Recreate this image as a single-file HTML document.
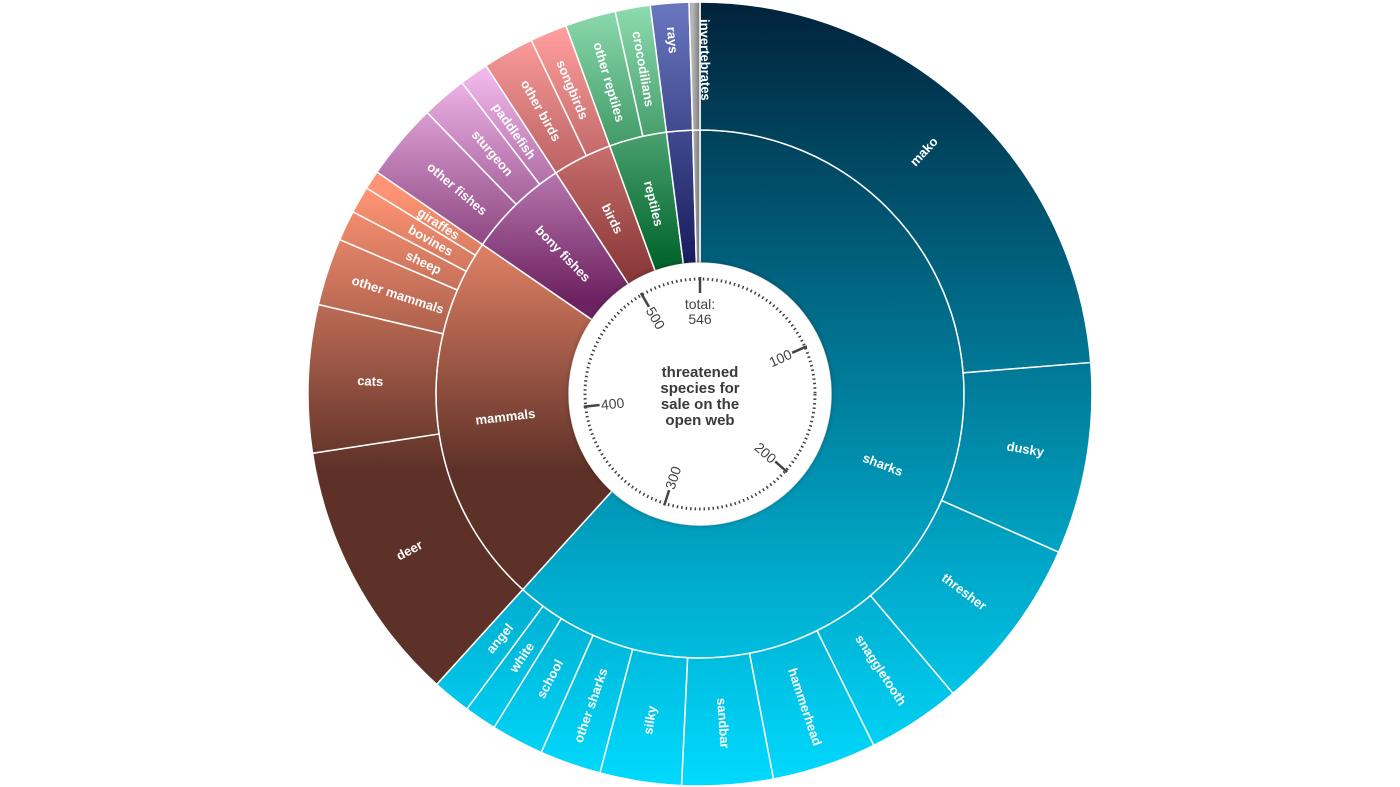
<!DOCTYPE html>
<html><head><meta charset="utf-8"><style>
html,body{margin:0;padding:0;background:#fff;}
svg{display:block;}
text{font-family:"Liberation Sans",Arial,sans-serif;}
.l{fill:#fff;font-weight:bold;font-size:13px;text-anchor:middle;dominant-baseline:central;}
</style></head><body>
<svg id="s" width="1400" height="787" viewBox="0 0 1400 787" xmlns="http://www.w3.org/2000/svg">
<defs>
<linearGradient id="gS" gradientUnits="userSpaceOnUse" x1="0" y1="0" x2="0" y2="787"><stop offset="0" stop-color="#01223a"/><stop offset="1" stop-color="#00dbff"/></linearGradient>
<linearGradient id="gM" gradientUnits="userSpaceOnUse" x1="0" y1="190" x2="0" y2="470"><stop offset="0" stop-color="#ff9474"/><stop offset="1" stop-color="#5e3128"/></linearGradient>
<linearGradient id="gB" gradientUnits="userSpaceOnUse" x1="0" y1="60" x2="0" y2="300"><stop offset="0" stop-color="#f9c0f2"/><stop offset="1" stop-color="#6c2260"/></linearGradient>
<linearGradient id="gR" gradientUnits="userSpaceOnUse" x1="0" y1="30" x2="0" y2="275"><stop offset="0" stop-color="#ff9e9e"/><stop offset="1" stop-color="#8a3838"/></linearGradient>
<linearGradient id="gP" gradientUnits="userSpaceOnUse" x1="0" y1="0" x2="0" y2="268"><stop offset="0" stop-color="#90deb2"/><stop offset="1" stop-color="#00622a"/></linearGradient>
<linearGradient id="gY" gradientUnits="userSpaceOnUse" x1="0" y1="0" x2="0" y2="268"><stop offset="0" stop-color="#6a78c0"/><stop offset="1" stop-color="#161a5c"/></linearGradient>
<linearGradient id="gI" gradientUnits="userSpaceOnUse" x1="684" y1="0" x2="700" y2="0"><stop offset="0" stop-color="#555"/><stop offset="0.5" stop-color="#bbb"/><stop offset="1" stop-color="#777"/></linearGradient>
<filter id="sh" x="-20%" y="-20%" width="140%" height="140%"><feDropShadow dx="0" dy="0" stdDeviation="3" flood-color="#000" flood-opacity="0.35"/></filter>
</defs>
<g id="arcs"></g>
<circle cx="700" cy="394" r="131" fill="#fff" filter="url(#sh)"/>
<circle cx="700" cy="394" r="115" fill="none" stroke="#444" stroke-width="3" stroke-dasharray="1.5 3"/>
<g stroke="#444" stroke-width="2.5" id="ticks"></g>
<g font-size="14" fill="#444" text-anchor="middle" dominant-baseline="central">
<text transform="translate(700 394) rotate(-24.1) translate(88 0)">100</text>
<text transform="translate(700 394) rotate(41.9) translate(88 0)">200</text>
<text transform="translate(700 394) rotate(-72.2) translate(-88 0)">300</text>
<text transform="translate(700 394) rotate(-6.3) translate(-88 0)">400</text>
<text transform="translate(700 394) rotate(59.7) translate(-88 0)">500</text>
<text x="700" y="304">total:</text>
<text x="700" y="319">546</text>
</g>
<g font-size="15" font-weight="bold" fill="#3a3a3a" text-anchor="middle">
<text x="700" y="377">threatened</text>
<text x="700" y="393">species for</text>
<text x="700" y="409">sale on the</text>
<text x="700" y="425">open web</text>
</g>
<g class="lab">
<text class="l" transform="translate(700 394) rotate(21.1) translate(196 0)">sharks</text>
<text class="l" transform="translate(700 394) rotate(-6.65) translate(-196 0)">mammals</text>
<text class="l" transform="translate(700 394) rotate(45.7) translate(-196 0)">bony fishes</text>
<text class="l" transform="translate(700 394) rotate(63.45) translate(-196 0)">birds</text>
<text class="l" transform="translate(700 394) rotate(76.35) translate(-196 0)">reptiles</text>

<text class="l" transform="translate(700 394) rotate(-47.3) translate(330 0)">mako</text>
<text class="l" transform="translate(700 394) rotate(9.6) translate(330 0)">dusky</text>
<text class="l" transform="translate(700 394) rotate(36.8) translate(330 0)">thresher</text>
<text class="l" transform="translate(700 394) rotate(56.75) translate(330 0)">snaggletooth</text>
<text class="l" transform="translate(700 394) rotate(71.45) translate(330 0)">hammerhead</text>
<text class="l" transform="translate(700 394) rotate(85.95) translate(330 0)">sandbar</text>
<text class="l" transform="translate(700 394) rotate(-81.25) translate(-330 0)">silky</text>
<text class="l" transform="translate(700 394) rotate(-70.65) translate(-330 0)">other sharks</text>
<text class="l" transform="translate(700 394) rotate(-62.2) translate(-322 0)">school</text>
<text class="l" transform="translate(700 394) rotate(-55.9) translate(-318 0)">white</text>
<text class="l" transform="translate(700 394) rotate(-50.65) translate(-316 0)">angel</text>
<text class="l" transform="translate(700 394) rotate(-28.25) translate(-330 0)">deer</text>
<text class="l" transform="translate(700 394) rotate(2.25) translate(-330 0)">cats</text>
<text class="l" transform="translate(700 394) rotate(18.2) translate(-318 0)">other mammals</text>
<text class="l" transform="translate(700 394) rotate(25.45) translate(-306 0)">sheep</text>
<text class="l" transform="translate(700 394) rotate(29.7) translate(-310 0)">bovines</text>
<text class="l" transform="translate(700 394) rotate(33.1) translate(-312 0)">giraffes</text>
<text class="l" transform="translate(700 394) rotate(40.2) translate(-318 0)">other fishes</text>
<text class="l" transform="translate(700 394) rotate(49.25) translate(-318 0)">sturgeon</text>
<text class="l" transform="translate(700 394) rotate(54.75) translate(-322 0)">paddlefish</text>
<text class="l" transform="translate(700 394) rotate(60.7) translate(-325 0)">other birds</text>
<text class="l" transform="translate(700 394) rotate(67.25) translate(-330 0)">songbirds</text>
<text class="l" transform="translate(700 394) rotate(73.75) translate(-325 0)">other reptiles</text>
<text class="l" transform="translate(700 394) rotate(80.1) translate(-330 0)">crocodilians</text>
<text class="l" transform="translate(700 394) rotate(85.55) translate(-355 0)">rays</text>
<text class="l" transform="translate(700 394) rotate(89.2) translate(-334 -10)">invertebrates</text>
</g>
</svg>
<script>
(function(){
var cx=700,cy=394,NS="http://www.w3.org/2000/svg";
function pt(r,a){a=a*Math.PI/180;return [cx+r*Math.sin(a),cy-r*Math.cos(a)];}
function arc(r0,r1,a0,a1){var p0=pt(r1,a0),p1=pt(r1,a1),p2=pt(r0,a1),p3=pt(r0,a0),lg=(a1-a0)>180?1:0;
return "M"+p0+"A"+r1+","+r1+" 0 "+lg+" 1 "+p1+"L"+p2+"A"+r0+","+r0+" 0 "+lg+" 0 "+p3+"Z";}
var g=document.getElementById("arcs");
function add(r0,r1,a0,a1,f){var p=document.createElementNS(NS,"path");p.setAttribute("d",arc(r0,r1,a0,a1));p.setAttribute("fill",f);p.setAttribute("stroke","#fff");p.setAttribute("stroke-width","1.5");g.appendChild(p);}
var inner=[[0,222.2,"url(#gS)"],[222.2,304.5,"url(#gM)"],[304.5,326.9,"url(#gB)"],[326.9,340,"url(#gR)"],[340,352.7,"url(#gP)"],[352.7,358.4,"url(#gY)"],[358.4,360,"url(#gI)"]];
inner.forEach(function(d){add(131,264,d[0],d[1],d[2]);});
var outer=[[[0,85.4,113.8,139.8,153.7,169.2,182.7,194.8,203.9,211.7,216.5,222.2],"url(#gS)"],
[[222.2,261.3,283.2,293.2,297.7,301.7,304.5],"url(#gM)"],
[[304.5,315.9,322.6,326.9],"url(#gB)"],
[[326.9,334.5,340],"url(#gR)"],
[[340,347.5,352.7],"url(#gP)"],
[[352.7,358.4],"url(#gY)"],
[[358.4,360],"url(#gI)"]];
outer.forEach(function(o){var b=o[0];for(var i=0;i<b.length-1;i++){add(264,392,b[i],b[i+1],o[1]);}});
// deer solid
var t=document.getElementById("ticks");
[0,100,200,300,400,500].forEach(function(v){var a=v/546*360,p=pt(117,a),q=pt(101,a);var l=document.createElementNS(NS,"line");
l.setAttribute("x1",p[0]);l.setAttribute("y1",p[1]);l.setAttribute("x2",q[0]);l.setAttribute("y2",q[1]);t.appendChild(l);});
})();
</script>
</body></html>
